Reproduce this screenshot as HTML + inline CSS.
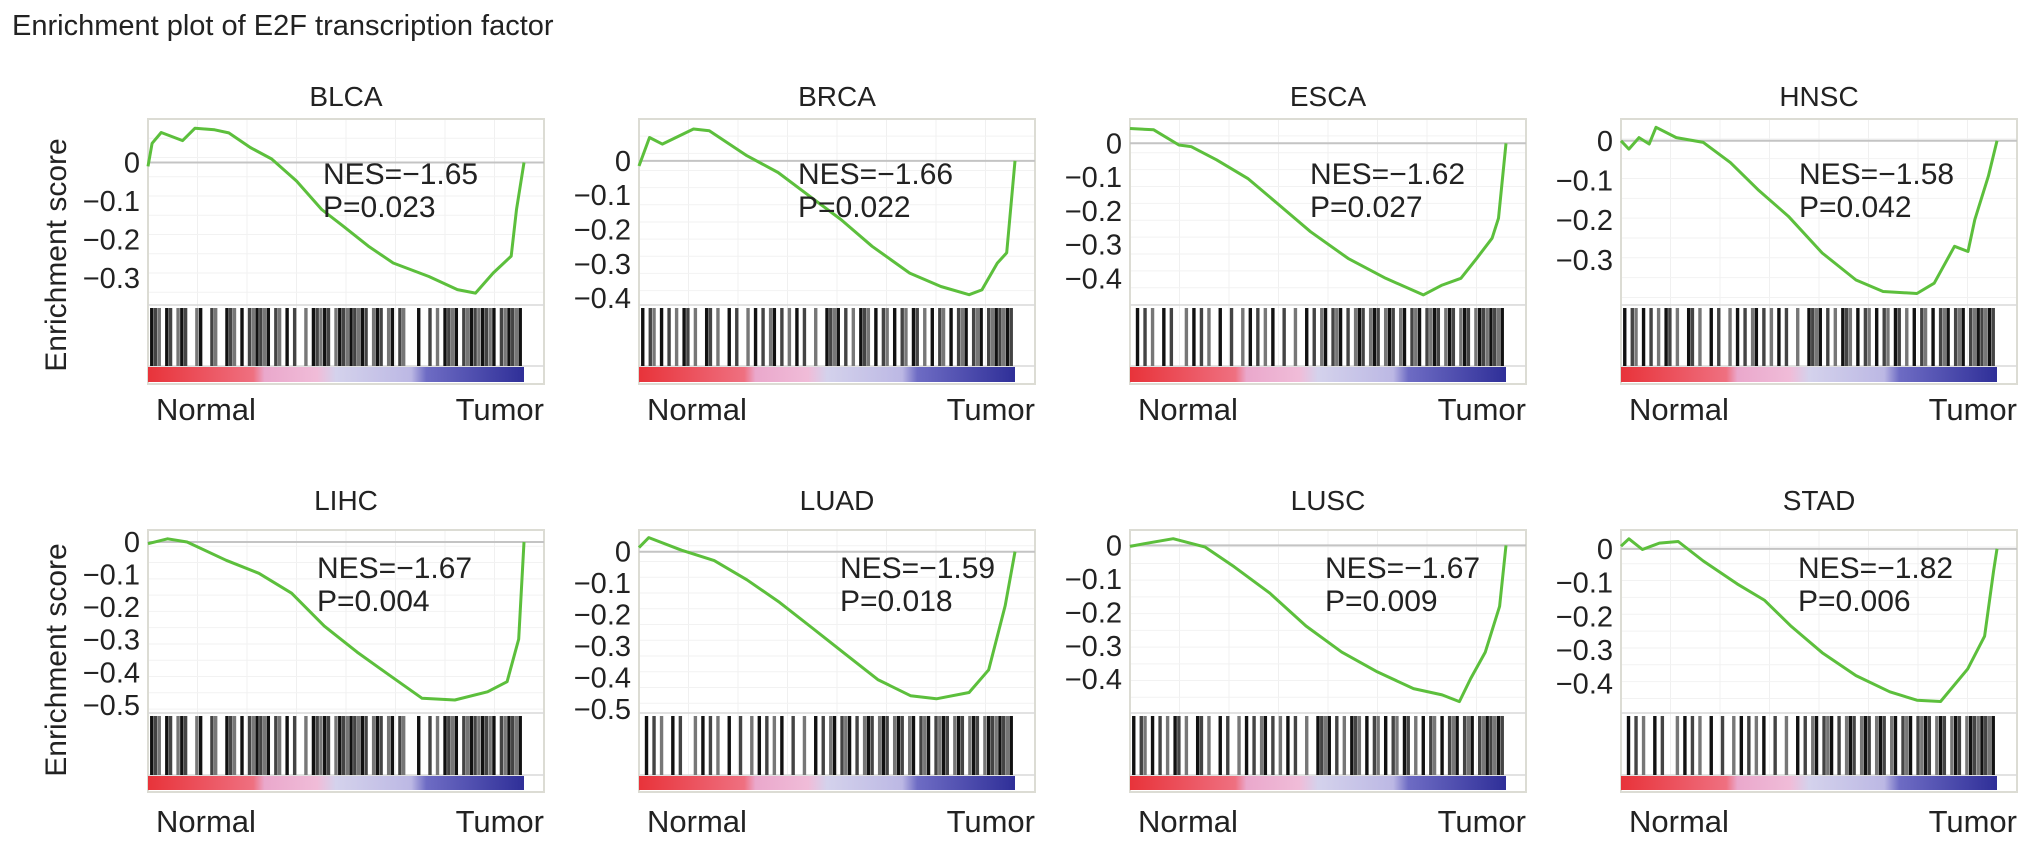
<!DOCTYPE html>
<html><head><meta charset="utf-8"><title>Enrichment plot of E2F transcription factor</title>
<style>
html,body{margin:0;padding:0;background:#fff;}
svg{display:block;font-family:"Liberation Sans",Arial,sans-serif;}
</style></head>
<body>
<svg id="fig" width="2032" height="846" viewBox="0 0 2032 846" xmlns="http://www.w3.org/2000/svg">
<text x="12" y="35" font-size="29" fill="#222">Enrichment plot of E2F transcription factor</text>
<text transform="translate(66,255) rotate(-90)" text-anchor="middle" font-size="30" fill="#222">Enrichment score</text>
<text transform="translate(66,660) rotate(-90)" text-anchor="middle" font-size="30" fill="#222">Enrichment score</text>
</svg>
<script>
const panelNames = ["BLCA","BRCA","ESCA","HNSC","LIHC","LUAD","LUSC","STAD"];
const nesValues = ["-1.65","-1.66","-1.62","-1.58","-1.67","-1.59","-1.67","-1.82"];
const pValues = ["0.023","0.022","0.027","0.042","0.004","0.018","0.009","0.006"];
const yMaxs = [0.113,0.122,0.072,0.055,0.037,0.069,0.046,0.056];
const yMins = [-0.37,-0.42,-0.479,-0.414,-0.525,-0.512,-0.501,-0.487];
const yTicks = [
  [0,-0.1,-0.2,-0.3],[0,-0.1,-0.2,-0.3,-0.4],[0,-0.1,-0.2,-0.3,-0.4],[0,-0.1,-0.2,-0.3],
  [0,-0.1,-0.2,-0.3,-0.4,-0.5],[0,-0.1,-0.2,-0.3,-0.4,-0.5],[0,-0.1,-0.2,-0.3,-0.4],[0,-0.1,-0.2,-0.3,-0.4]
];
const rankBLCA = [0,1.1,3.5,9.2,12.5,17.7,21.5,27.2,32.9,39.5,46.2,51.9,58.6,65.2,74.7,82.3,87.1,91.8,96.6,98.0,100];
const esBLCA = [-0.01,0.05,0.078,0.057,0.089,0.085,0.077,0.039,0.009,-0.048,-0.122,-0.165,-0.217,-0.261,-0.296,-0.33,-0.339,-0.287,-0.243,-0.122,0];
const rankBRCA = [0,2.8,6.2,14.5,18.7,28.7,37,45.3,53.7,62,72,80.3,87.8,91.2,95.3,97.8,100];
const esBRCA = [-0.015,0.068,0.049,0.093,0.088,0.015,-0.034,-0.102,-0.171,-0.249,-0.327,-0.366,-0.39,-0.376,-0.298,-0.268,0];
const rankESCA = [0,6.3,13,16.3,23,31.3,39.7,48,58,68,78,83,88,92.2,96.3,98,100];
const esESCA = [0.044,0.04,-0.005,-0.01,-0.049,-0.104,-0.183,-0.262,-0.341,-0.4,-0.449,-0.42,-0.4,-0.341,-0.281,-0.222,0];
const rankHNSC = [0,2.1,4.8,7.5,9.3,14.7,21.9,29.1,36.4,44.5,53.5,62.5,69.7,78.7,83.3,88.7,92.3,94.1,97.7,100];
const esHNSC = [0,-0.021,0.008,-0.008,0.034,0.008,-0.004,-0.055,-0.123,-0.19,-0.283,-0.351,-0.38,-0.385,-0.359,-0.266,-0.279,-0.199,-0.089,0];
const rankLIHC = [0,5.2,10.4,20.8,29.5,38.2,46.9,55.6,64.2,72.9,81.6,90.3,95.5,98.6,100];
const esLIHC = [-0.005,0.01,0,-0.056,-0.096,-0.157,-0.258,-0.338,-0.409,-0.48,-0.485,-0.46,-0.429,-0.298,0];
const rankLUAD = [0,2.6,11.3,20,28.7,37.4,46.1,54.8,63.5,72.2,79.1,87.8,93,97.4,100];
const esLUAD = [0.013,0.045,0.005,-0.028,-0.089,-0.161,-0.242,-0.324,-0.406,-0.457,-0.467,-0.447,-0.375,-0.171,0];
const rankLUSC = [0,3.8,11.5,20,27.7,37.2,46.8,56.3,65.8,75.4,83,87.6,90.6,94.5,98.3,100];
const esLUSC = [-0.003,0.005,0.02,-0.005,-0.064,-0.143,-0.241,-0.319,-0.378,-0.428,-0.447,-0.467,-0.398,-0.319,-0.182,0];
const rankSTAD = [0,2.1,5.7,10.2,15.2,21.9,30.9,38.1,45.3,53.5,62.5,71.5,78.7,85,92.2,96.7,99.1,100];
const esSTAD = [0.008,0.03,-0.002,0.017,0.022,-0.036,-0.104,-0.152,-0.23,-0.308,-0.376,-0.424,-0.449,-0.453,-0.356,-0.259,-0.065,0];
const hitsA = [1,2,3,5,6,8,9,10,13,14,17,18,21,22,23,25,27,28,29,30,31,32,34,35,37,39,42,44,45,46,47,48,50,51,52,53,54,55,56,57,58,60,61,62,64,65,67,68,72,75,77,79,80,81,82,84,85,86,87,88,89,90,91,92,94,95,96,97,98,99];
const hitsB = [1,3,4,6,8,10,12,13,15,18,19,21,24,26,29,31,33,35,36,38,40,42,44,47,50,51,52,53,55,57,59,60,61,63,65,66,68,70,71,73,74,76,78,80,81,83,85,86,87,89,90,91,93,94,95,96,97,98,99];
const hitsC = [2,4,6,9,11,15,17,19,21,24,27,30,32,34,36,38,41,44,47,49,51,52,54,55,56,58,60,61,62,64,65,66,68,69,70,72,73,75,76,77,79,80,81,82,84,85,86,88,89,90,92,93,94,95,96,97,98,99];
const panelRanks = [rankBLCA,rankBRCA,rankESCA,rankHNSC,rankLIHC,rankLUAD,rankLUSC,rankSTAD];
const panelES = [esBLCA,esBRCA,esESCA,esHNSC,esLIHC,esLUAD,esLUSC,esSTAD];
const panelHits = [hitsA,hitsB,hitsC,hitsB,hitsA,hitsC,hitsB,hitsC];

const NS = "http://www.w3.org/2000/svg";
const svg = document.getElementById("fig");
function mk(tag, attrs, parent){
  const e = document.createElementNS(NS, tag);
  for (const k in attrs) e.setAttribute(k, attrs[k]);
  (parent||svg).appendChild(e);
  return e;
}
const colLeft = [148,639,1130,1621];
const rows = [
  {top:119, esBot:305, bcBot:366, cbBot:382, boxBot:384, titleY:106, nesDy:65, labY:420},
  {top:530, esBot:713, bcBot:775, cbBot:790, boxBot:792, titleY:510, nesDy:48, labY:832}
];
const boxW = 396, dataW = 376;
const nesDx = [175,159,180,178,169,201,195,177];

panelNames.forEach((name, i) => {
  const r = rows[Math.floor(i/4)];
  const L = colLeft[i%4];
  const g = mk("g", {});
  
  
  const x = v => L + v/100*dataW;
  const y = v => r.top + (yMaxs[i]-v)/(yMaxs[i]-yMins[i])*(r.esBot-r.top);

  for (let k=1;k<8;k++){
    const gx = L + k*boxW/8;
    mk("line",{x1:gx,x2:gx,y1:r.top,y2:r.bcBot,stroke:"#f0f0f0","stroke-width":1},g);
  }
  for (let v=yMaxs[i]; v>yMins[i]; v-=0.05){
    mk("line",{x1:L,x2:L+boxW,y1:y(v),y2:y(v),stroke:"#f2f2f2","stroke-width":1},g);
  }
  const box = mk("rect",{x:L,y:r.top,width:boxW,height:r.boxBot-r.top,fill:"none",stroke:"#dcdcd4","stroke-width":2},g);
  
  
  mk("line",{x1:L,x2:L+boxW,y1:r.esBot,y2:r.esBot,stroke:"#d8d8d8","stroke-width":1.5},g);
  mk("line",{x1:L,x2:L+boxW,y1:r.bcBot,y2:r.bcBot,stroke:"#d8d8d8","stroke-width":1.5},g);
  const z = mk("line",{x1:L,x2:L+boxW,y1:y(0),y2:y(0),stroke:"#c4c4c4","stroke-width":2},g);
  
  
  yTicks[i].forEach(t => {
    const tl = mk("text",{x:L-8,y:y(t)+10,"text-anchor":"end","font-size":29,fill:"#222"},g);
    tl.textContent = t===0 ? "0" : "\u2212" + Math.abs(t).toFixed(1);
    
    
  });
  panelHits[i].forEach((h, j) => {
    const b = mk("line",{x1:x(h),x2:x(h),y1:r.esBot+3,y2:r.bcBot,stroke:(j%3===0?"#111":(j%3===1?"#444":"#777")),"stroke-width":3.4},g);
    
    
  });
  const gid = "grad"+i;
  const grad = mk("linearGradient",{id:gid,x1:"0",x2:"1",y1:"0",y2:"0"},g);
  [["0","#e8333a"],["0.28","#ef7080"],["0.31","#eaa8cc"],["0.45","#f0bcd8"],["0.5","#d4d2ec"],["0.7","#bcb8e4"],["0.74","#6e6cc4"],["1","#2f2f98"]]
    .forEach(s => mk("stop",{offset:s[0],"stop-color":s[1]},grad));
  const cb = mk("rect",{x:L,y:r.bcBot+1,width:dataW,height:r.cbBot-r.bcBot-1,fill:"url(#"+gid+")"},g);
  
  
  const ranks = panelRanks[i], es = panelES[i];
  const d = ranks.map((rk,k) => (k?"L":"M") + x(rk).toFixed(1) + "," + y(es[k]).toFixed(1)).join(" ");
  const p = mk("path",{d:d,fill:"none",stroke:"#5cbf3c","stroke-width":3,"stroke-linejoin":"round"},g);
  
  
  const tt = mk("text",{x:L+boxW/2,y:r.titleY,"text-anchor":"middle","font-size":28,fill:"#222"},g);
  tt.textContent = name;
  
  
  const n1 = mk("text",{x:L+nesDx[i],y:r.top+r.nesDy,"font-size":30,fill:"#222"},g);
  n1.textContent = "NES=" + nesValues[i].replace("-","\u2212");
  
  
  const n2 = mk("text",{x:L+nesDx[i],y:r.top+r.nesDy+33,"font-size":30,fill:"#222"},g);
  n2.textContent = "P=" + pValues[i];
  
  
  const nl = mk("text",{x:L+8,y:r.labY,"font-size":31,fill:"#222"},g);
  nl.textContent = "Normal";
  
  
  const tl2 = mk("text",{x:L+boxW,y:r.labY,"text-anchor":"end","font-size":31,fill:"#222"},g);
  tl2.textContent = "Tumor";
  
  
});
</script>
</body></html>
